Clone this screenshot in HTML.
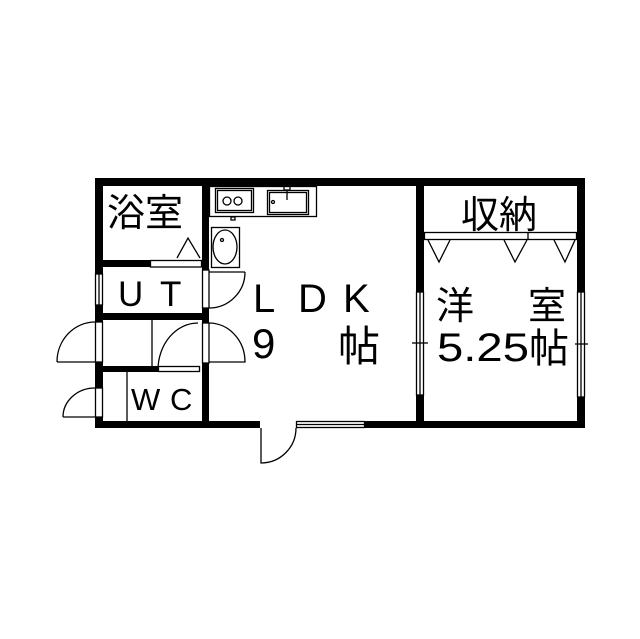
<!DOCTYPE html>
<html><head><meta charset="utf-8"><style>
html,body{margin:0;padding:0;background:#fff;}
svg{display:block;}
text{font-family:"Liberation Sans","Noto Sans CJK JP",sans-serif;fill:#000;}
</style></head><body>
<svg width="640" height="639" viewBox="0 0 640 639" xmlns="http://www.w3.org/2000/svg">
<rect width="640" height="639" fill="#fff"/>
<g fill="#000">
<rect x="95" y="178" width="490" height="8"/>
<rect x="95" y="178" width="8" height="250"/>
<rect x="577" y="178" width="8" height="250"/>
<rect x="95" y="421" width="165" height="7"/>
<rect x="365" y="421" width="220" height="7"/>
<rect x="202" y="178" width="7" height="92"/>
<rect x="202" y="308" width="7" height="15"/>
<rect x="202" y="363" width="7" height="60"/>
<rect x="95" y="260" width="55" height="7"/>
<rect x="95" y="313" width="114" height="7"/>
<rect x="95" y="366" width="63" height="6"/>
<rect x="416" y="178" width="8" height="114"/>
<rect x="416" y="395" width="8" height="30"/>
</g>
<g fill="#fff" stroke="#000" stroke-width="1.3">
<rect x="95.5" y="274" width="7" height="31"/>
<rect x="95.5" y="322" width="7" height="40"/>
<rect x="95.5" y="388" width="7" height="29"/>
<rect x="202.5" y="270" width="6.5" height="38"/>
<rect x="202.5" y="323" width="6.5" height="40"/>
<rect x="150.5" y="260.5" width="51" height="6.5"/>
<rect x="158.5" y="366.5" width="41" height="5"/>
<rect x="416.5" y="292" width="7" height="103"/>
<rect x="577.5" y="292" width="7" height="105"/>
<rect x="424.5" y="232.5" width="152" height="7"/>
<rect x="296.5" y="421.5" width="68" height="6"/>
<rect x="209.5" y="186.5" width="107" height="30"/>
<rect x="215.5" y="188.5" width="38" height="24"/>
<rect x="217.5" y="190.5" width="34" height="20"/>
<rect x="267.5" y="190.5" width="41" height="24"/>
<rect x="269.5" y="192.5" width="37" height="20"/>
<rect x="211.5" y="227.5" width="28" height="40"/>
</g>
<g fill="none" stroke="#000" stroke-width="1.3">
<circle cx="227" cy="201" r="4"/><circle cx="238" cy="201" r="4"/>
<circle cx="273" cy="202" r="1.5"/>
<line x1="287" y1="190" x2="287" y2="200"/>
<rect x="284" y="186" width="6" height="4"/>
<rect x="231" y="217" width="4" height="3"/>
<ellipse cx="225" cy="247" rx="12" ry="17"/>
<circle cx="222" cy="240" r="1.5"/>
<polyline points="177,258 188,238 200,258"/>
<polyline points="428,240 439,262 450,240"/>
<polyline points="504,240 515,262 527,240"/>
<polyline points="554,240 565,262 575,240"/>
<line x1="528" y1="232" x2="528" y2="240"/>
<line x1="152" y1="320" x2="152" y2="366"/>
<line x1="127" y1="372" x2="127" y2="421"/>
<path d="M57,362 L95,362 M57,362 A38,40 0 0 1 95,322"/>
<path d="M63,417 L95,417 M63,417 A32,29 0 0 1 95,388"/>
<path d="M158,370 A40,47 0 0 1 198,323"/>
<path d="M209,323 A36,39 0 0 1 245,362 L209,362"/>
<path d="M245,272 L209,272 M245,272 A36,36 0 0 1 209,308"/>
<path d="M261,428 L261,463 A35,35 0 0 0 296,428"/>
<line x1="412" y1="343" x2="428" y2="343"/>
<line x1="575" y1="344" x2="588" y2="344"/>
<line x1="420" y1="292" x2="420" y2="395"/>
<line x1="581" y1="292" x2="581" y2="397"/>
<line x1="99" y1="274" x2="99" y2="305"/>
<line x1="296" y1="424.5" x2="365" y2="424.5"/>
</g>
<g>
<text x="107" y="226" font-size="38">浴室</text>
<text x="118" y="306" font-size="35">U</text>
<text x="160" y="306" font-size="35">T</text>
<text x="131" y="410" font-size="31">W</text>
<text x="170" y="410" font-size="31">C</text>
<text x="253" y="312" font-size="40">L</text>
<text x="298" y="312" font-size="40">D</text>
<text x="343" y="312" font-size="40">K</text>
<text x="252" y="358" font-size="42">9</text>
<text x="338" y="361" font-size="42">帖</text>
<text x="461" y="228" font-size="38">収納</text>
<text x="436" y="319" font-size="38">洋</text>
<text x="528" y="319" font-size="38">室</text>
<text x="437" y="361" font-size="40" textLength="92" lengthAdjust="spacingAndGlyphs">5.25</text>
<text x="529" y="362" font-size="40">帖</text>
</g>
</svg>
</body></html>
